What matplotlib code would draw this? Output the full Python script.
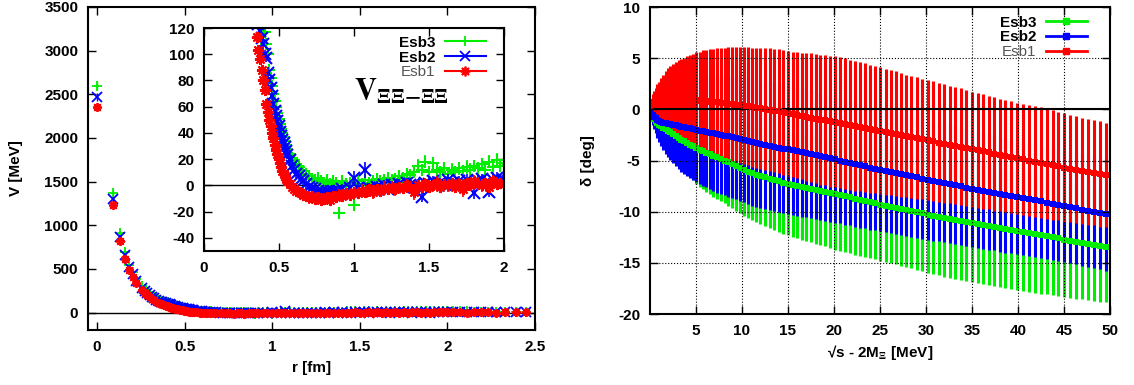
import matplotlib
matplotlib.use('Agg')
import matplotlib.pyplot as plt
from matplotlib.lines import Line2D

plt.rcParams['font.family'] = ['Liberation Sans', 'DejaVu Sans']
plt.rcParams['font.weight'] = 'bold'
plt.rcParams['axes.unicode_minus'] = False
plt.rcParams['mathtext.fontset'] = 'stix'

GREEN = '#00ee00'
BLUE = '#0000ff'
RED = '#ff0000'

# ---- left panel: potential V(r), lattice points ----
r_fm = [0.000, 0.091, 0.128, 0.157, 0.181, 0.203, 0.222, 0.256, 0.272, 0.287, 0.301, 0.314, 0.327, 0.339, 0.351, 0.362,
        0.373, 0.384, 0.394, 0.404, 0.414, 0.424, 0.434, 0.444, 0.453, 0.462, 0.471, 0.480, 0.489, 0.498, 0.506, 0.515,
        0.523, 0.531, 0.540, 0.548, 0.556, 0.570, 0.585, 0.600,
        0.615, 0.630, 0.645, 0.660, 0.680, 0.700, 0.720, 0.740, 0.760, 0.780, 0.800, 0.820, 0.840, 0.860, 0.880, 0.900,
        0.920, 0.945, 0.970, 1.000,
        1.025, 1.050, 1.075, 1.100, 1.125, 1.150, 1.175, 1.200, 1.225, 1.250, 1.275, 1.300, 1.325, 1.350, 1.375, 1.400,
        1.425, 1.450, 1.475, 1.500, 1.525, 1.550, 1.575, 1.600, 1.625, 1.650, 1.675, 1.700, 1.725, 1.750, 1.775, 1.800,
        1.825, 1.850, 1.875, 1.900, 1.925, 1.950, 1.975, 2.000,
        2.03, 2.07, 2.11, 2.15, 2.19, 2.23, 2.28, 2.33, 2.39, 2.45]

v_esb3 = [2600, 1370, 915, 690, 545, 462, 388, 300, 268, 240, 215, 194, 176, 160, 146, 135,
          128, 124, 121, 117, 108, 100, 88, 82, 76, 70, 64, 60, 55, 51, 47, 43, 40, 37, 34, 31, 28, 24, 21, 19,
          16, 14, 12, 11, 9, 7, 5, 4, 6, 3, 2, 4, 1, 3, 2, -21, 3, 1, 2, -15,
          3, 1, 4, 2, 3, 5, 3, 4, 6, 4, 5, 7, 6, 9, 8, 10, 15, 12, 18, 10,
          17, 12, 10, 13, 9, 12, 10, 13, 11, 14, 12, 15, 13, 16, 12, 18, 14, 19, 15, 17,
          16, 14, 12, 10, 8, 6, 5, 4, 3, 2]
v_esb2 = [2470, 1300, 868, 660, 522, 440, 366, 282, 252, 225, 200, 180, 163, 147, 133, 123,
          118, 112, 108, 100, 97, 86, 80, 74, 68, 62, 57, 53, 49, 45, 41, 38, 35, 32, 29, 26, 23, 19, 15, 12,
          9, 7, 5, 3, 1, -1, -2, -3, -4, -5, -6, -5, -6, -4, -5, -4, -3, -5, -2, 6,
          -2, -4, 12, -2, -3, -1, -2, 0, -3, 0, -1, 1, -1, 2, 0, 1, -2, -9, 2, 1,
          3, 0, 2, 1, 4, 2, 0, 3, 1, 4, 2, -6, 3, 5, 2, -5, 4, 6, 3, 4,
          3, 2, 4, 1, 3, 2, 1, 3, 2, 1]
v_esb1 = [2350, 1235, 815, 618, 492, 408, 342, 258, 228, 200, 176, 156, 140, 125, 113, 103,
          96, 88, 80, 73, 62, 56, 50, 45, 40, 36, 31, 27, 24, 20, 17, 14, 11, 9, 7, 5, 3, 1, -1, -3,
          -4, -5, -6, -7, -8, -9, -8, -10, -9, -11, -10, -9, -11, -8, -9, -7, -8, -6, -7, -5,
          -6, -4, -5, -3, -5, -3, -4, -2, -3, -1, -3, -1, -2, 0, -2, -5, 0, -1, 1, -1,
          0, 2, -1, 1, 0, 2, -1, 1, -3, 2, 0, 3, 1, 0, 2, -1, 3, 1, 2, 1,
          1, 2, 0, 1, 2, 1, 0, 1, 2, 1]

e_esb3 = [50, 30, 18, 13, 11, 9, 8, 7, 6, 5, 5, 4, 4, 4, 3, 3,
          3, 3, 3, 4, 3, 3, 4, 3, 3, 3, 4, 3, 3, 3, 3, 4, 3, 3, 3, 3, 4, 3, 3, 3,
          3, 4, 3, 3, 4, 3, 3, 4, 3, 4, 3, 3, 4, 3, 3, 2, 3, 4, 3, 3,
          3, 4, 3, 4, 3, 4, 3, 4, 3, 4, 4, 3, 4, 4, 3, 4, 5, 4, 5, 4,
          5, 4, 4, 5, 4, 5, 4, 5, 4, 5, 5, 4, 5, 5, 4, 5, 5, 6, 5, 5,
          5, 6, 5, 6, 7, 6, 7, 8, 7, 8]
e_esb2 = [45, 28, 16, 12, 10, 8, 7, 6, 5, 5, 4, 4, 4, 3, 3, 3,
          3, 3, 4, 3, 3, 4, 3, 3, 3, 4, 3, 3, 3, 3, 4, 3, 3, 3, 4, 3, 3, 3, 3, 3,
          3, 3, 4, 3, 4, 3, 4, 5, 4, 3, 5, 4, 3, 4, 4, 3, 4, 3, 4, 5,
          4, 3, 6, 4, 3, 4, 3, 4, 4, 3, 4, 4, 3, 4, 4, 3, 4, 4, 3, 4,
          4, 3, 4, 4, 5, 4, 3, 4, 4, 5, 4, 4, 5, 4, 5, 4, 5, 4, 5, 5,
          5, 6, 5, 6, 7, 6, 7, 8, 7, 8]
e_esb1 = [40, 25, 15, 12, 10, 8, 7, 6, 5, 5, 4, 4, 4, 3, 3, 3,
          3, 4, 3, 3, 4, 3, 2, 3, 4, 3, 3, 2, 3, 4, 3, 3, 2, 3, 3, 4, 3, 3, 2, 3,
          3, 4, 3, 4, 3, 5, 4, 3, 4, 5, 4, 3, 5, 4, 3, 4, 5, 3, 4, 4,
          4, 5, 3, 4, 5, 4, 3, 5, 4, 4, 5, 3, 4, 5, 4, 6, 3, 4, 5, 4,
          3, 5, 4, 4, 5, 3, 4, 5, 6, 4, 3, 5, 4, 5, 4, 3, 5, 4, 4, 5,
          5, 6, 5, 6, 7, 6, 7, 8, 7, 8]

# ---- right panel: phase shift vs energy ----
e_mev = [0.05, 0.15, 0.3, 0.45, 0.6, 0.8, 1.0, 1.2, 1.45, 1.7,
         1.95, 2.2, 2.5, 2.8, 3.1, 3.4, 3.7, 4.0, 4.35, 4.7,
         5.05, 5.4, 5.75, 6.1, 6.5, 6.9, 7.3, 7.7, 8.1, 8.5,
         8.9, 9.3, 9.75, 10.2, 10.65, 11.1, 11.55, 12.0, 12.5, 13.0,
         13.5, 14.0, 14.5, 15.0, 15.5, 16.0, 16.5, 17.0, 17.5, 18.0,
         18.5, 19.0, 19.55, 20.1, 20.65, 21.2, 21.75, 22.3, 22.85, 23.4,
         23.95, 24.5, 25.05, 25.6, 26.15, 26.7, 27.25, 27.8, 28.4, 29.0,
         29.6, 30.2, 30.8, 31.4, 32.0, 32.6, 33.2, 33.8, 34.4, 35.0,
         35.6, 36.2, 36.8, 37.4, 38.0, 38.6, 39.2, 39.85, 40.5, 41.15,
         41.8, 42.45, 43.1, 43.75, 44.4, 45.05, 45.7, 46.35, 47.0, 47.65,
         48.3, 48.95, 49.6]

d_esb1 = [0.35, 0.45, 0.6, 0.7, 0.75, 0.85, 0.9, 0.95, 1.0, 1.0,
          1.0, 1.0, 1.0, 1.0, 1.0, 1.0, 0.95, 0.95, 0.95, 0.9,
          0.9, 0.85, 0.85, 0.8, 0.75, 0.7, 0.7, 0.65, 0.6, 0.55,
          0.5, 0.45, 0.4, 0.35, 0.3, 0.2, 0.15, 0.1, 0.0, -0.05,
          -0.15, -0.2, -0.3, -0.4, -0.5, -0.55, -0.65, -0.75, -0.8, -0.9,
          -1.0, -1.05, -1.15, -1.2, -1.3, -1.4, -1.5, -1.6, -1.7, -1.8,
          -1.9, -2.0, -2.1, -2.2, -2.3, -2.4, -2.5, -2.6, -2.7, -2.8,
          -2.9, -3.0, -3.1, -3.25, -3.35, -3.45, -3.55, -3.65, -3.8, -3.9,
          -4.0, -4.1, -4.2, -4.35, -4.45, -4.55, -4.65, -4.8, -4.9, -5.0,
          -5.1, -5.2, -5.35, -5.45, -5.55, -5.7, -5.8, -5.9, -6.0, -6.1,
          -6.2, -6.3, -6.4]
de_esb1 = [0.3, 0.6, 0.9, 1.1, 1.3, 1.6, 1.8, 2.1, 2.4, 2.7,
           3.0, 3.2, 3.4, 3.6, 3.8, 3.95, 4.1, 4.25, 4.4, 4.55,
           4.7, 4.8, 4.9, 5.0, 5.1, 5.2, 5.3, 5.35, 5.4, 5.5,
           5.55, 5.6, 5.65, 5.7, 5.75, 5.8, 5.85, 5.9, 5.95, 6.0,
           6.0, 6.05, 6.1, 6.1, 6.15, 6.2, 6.2, 6.25, 6.3, 6.3,
           6.35, 6.35, 6.4, 6.4, 6.4, 6.4, 6.35, 6.35, 6.3, 6.3,
           6.25, 6.2, 6.2, 6.15, 6.1, 6.1, 6.05, 6.0, 6.0, 5.95,
           5.9, 5.9, 5.85, 5.8, 5.8, 5.75, 5.7, 5.7, 5.65, 5.6,
           5.6, 5.6, 5.55, 5.55, 5.5, 5.5, 5.5, 5.45, 5.45, 5.4,
           5.4, 5.4, 5.35, 5.35, 5.3, 5.3, 5.25, 5.25, 5.2, 5.2,
           5.15, 5.15, 5.1]

d_esb2 = [-0.3, -0.45, -0.6, -0.75, -0.85, -1.0, -1.1, -1.2, -1.3, -1.35,
          -1.4, -1.45, -1.5, -1.55, -1.6, -1.7, -1.75, -1.8, -1.85, -1.95,
          -2.0, -2.1, -2.15, -2.2, -2.3, -2.35, -2.45, -2.5, -2.6, -2.65,
          -2.75, -2.8, -2.9, -3.0, -3.1, -3.2, -3.3, -3.35, -3.45, -3.55,
          -3.65, -3.75, -3.85, -3.9, -4.0, -4.1, -4.2, -4.3, -4.4, -4.5,
          -4.6, -4.7, -4.8, -4.9, -5.0, -5.15, -5.25, -5.35, -5.45, -5.55,
          -5.7, -5.8, -5.9, -6.0, -6.1, -6.2, -6.35, -6.45, -6.55, -6.65,
          -6.8, -6.9, -7.0, -7.1, -7.2, -7.3, -7.4, -7.5, -7.65, -7.75,
          -7.85, -7.95, -8.05, -8.15, -8.3, -8.4, -8.5, -8.6, -8.7, -8.8,
          -8.9, -9.0, -9.15, -9.25, -9.35, -9.45, -9.55, -9.65, -9.8, -9.9,
          -10.0, -10.1, -10.25]
de_esb2 = [0.3, 0.6, 0.9, 1.2, 1.5, 1.8, 2.1, 2.4, 2.7, 3.0,
           3.25, 3.5, 3.75, 4.0, 4.2, 4.4, 4.55, 4.7, 4.85, 5.0,
           5.1, 5.2, 5.3, 5.4, 5.5, 5.6, 5.7, 5.75, 5.8, 5.9,
           5.95, 6.0, 6.05, 6.1, 6.15, 6.2, 6.2, 6.25, 6.25, 6.3,
           6.3, 6.3, 6.3, 6.3, 6.3, 6.3, 6.3, 6.25, 6.25, 6.25,
           6.2, 6.2, 6.2, 6.2, 6.15, 6.15, 6.1, 6.1, 6.1, 6.05,
           6.05, 6.0, 6.0, 6.0, 6.0, 5.95, 5.95, 5.95, 5.9, 5.9,
           5.9, 5.85, 5.85, 5.8, 5.8, 5.8, 5.75, 5.75, 5.7, 5.7,
           5.7, 5.65, 5.65, 5.6, 5.6, 5.6, 5.55, 5.55, 5.5, 5.5,
           5.5, 5.5, 5.5, 5.5, 5.5, 5.5, 5.5, 5.5, 5.5, 5.5,
           5.5, 5.5, 5.5]

d_esb3 = [-0.35, -0.55, -0.75, -0.95, -1.1, -1.3, -1.5, -1.65, -1.8, -1.95,
          -2.1, -2.25, -2.4, -2.6, -2.8, -2.95, -3.1, -3.3, -3.45, -3.6,
          -3.8, -3.95, -4.1, -4.25, -4.4, -4.55, -4.7, -4.85, -5.0, -5.15,
          -5.35, -5.55, -5.75, -5.95, -6.1, -6.25, -6.4, -6.5, -6.65, -6.8,
          -6.95, -7.05, -7.2, -7.3, -7.4, -7.5, -7.6, -7.7, -7.8, -7.9,
          -8.0, -8.1, -8.2, -8.3, -8.4, -8.5, -8.6, -8.75, -8.85, -8.95,
          -9.05, -9.15, -9.3, -9.4, -9.5, -9.6, -9.7, -9.8, -9.95, -10.05,
          -10.15, -10.3, -10.4, -10.5, -10.6, -10.7, -10.8, -10.9, -11.0, -11.1,
          -11.2, -11.3, -11.4, -11.5, -11.6, -11.7, -11.8, -11.9, -12.0, -12.1,
          -12.2, -12.3, -12.4, -12.5, -12.6, -12.75, -12.85, -12.95, -13.05, -13.15,
          -13.25, -13.35, -13.45]
de_esb3 = [0.3, 0.5, 0.7, 0.85, 1.0, 1.2, 1.4, 1.55, 1.7, 1.85,
           2.0, 2.15, 2.3, 2.45, 2.6, 2.75, 2.9, 3.05, 3.2, 3.35,
           3.5, 3.6, 3.7, 3.8, 3.9, 4.0, 4.1, 4.15, 4.2, 4.25,
           4.3, 4.35, 4.4, 4.45, 4.5, 4.6, 4.65, 4.7, 4.75, 4.8,
           4.85, 4.9, 4.95, 5.0, 5.05, 5.1, 5.15, 5.2, 5.2, 5.25,
           5.3, 5.3, 5.35, 5.4, 5.4, 5.4, 5.45, 5.45, 5.45, 5.5,
           5.5, 5.5, 5.5, 5.55, 5.55, 5.55, 5.6, 5.6, 5.6, 5.65,
           5.65, 5.7, 5.7, 5.7, 5.75, 5.75, 5.75, 5.8, 5.8, 5.8,
           5.8, 5.8, 5.8, 5.8, 5.8, 5.8, 5.8, 5.8, 5.75, 5.75,
           5.7, 5.7, 5.65, 5.65, 5.6, 5.6, 5.55, 5.55, 5.5, 5.5,
           5.45, 5.45, 5.4]

labels = ['Esb3', 'Esb2', 'Esb1']
W, H = 1134, 385

fig = plt.figure(figsize=(W / 100, H / 100), dpi=100)


def px_axes(left, top, right, bottom):
    return fig.add_axes([left / W, 1 - bottom / H, (right - left) / W, (bottom - top) / H])


def gp_ticks(ax, pad=6):
    ax.tick_params(direction='in', top=True, right=True, length=6, width=1,
                   labelsize=11, pad=pad)
    for lab in ax.get_xticklabels() + ax.get_yticklabels():
        lab.set_fontweight('bold')
    for s in ax.spines.values():
        s.set_linewidth(1.5)


left_series = [(v_esb3, e_esb3, GREEN, '+'),
               (v_esb2, e_esb2, BLUE, 'x'),
               (v_esb1, e_esb1, RED, (8, 2, 0))]

# main left axes
ax1 = px_axes(88, 7, 535, 330)
for v, e, c, m in left_series:
    ax1.errorbar(r_fm, v, yerr=e, fmt='none', ecolor=c, elinewidth=1)
    ax1.plot(r_fm, v, ls='none', marker=m, color=c, ms=6.5, mew=1.3)
ax1.axhline(0, color='k', lw=1, zorder=0)
ax1.set_xlim(-0.052, 2.5)
ax1.set_ylim(-200, 3500)
ax1.set_xticks([0, 0.5, 1, 1.5, 2, 2.5])
ax1.set_xticklabels(['0', '0.5', '1', '1.5', '2', '2.5'])
ax1.set_yticks(range(0, 3501, 500))
gp_ticks(ax1, pad=7)
ax1.set_xlabel('r [fm]', fontsize=11, fontweight='bold')
ax1.set_ylabel('V [MeV]', fontsize=11, fontweight='bold')
ax1.xaxis.set_label_coords(0.5, -0.095)
ax1.yaxis.set_label_coords(-0.145, 0.5)

# inset
ax_in = px_axes(204, 28, 504, 251)
ax_in.set_facecolor('white')
for v, e, c, m in left_series:
    ax_in.errorbar(r_fm, v, yerr=e, fmt='none', ecolor=c, elinewidth=1.2)
    ax_in.plot(r_fm, v, ls='none', marker=m, color=c, ms=8, mew=1.5)
ax_in.axhline(0, color='k', lw=1, zorder=0)
ax_in.set_xlim(0, 2)
ax_in.set_ylim(-50, 120)
ax_in.set_xticks([0, 0.5, 1, 1.5, 2])
ax_in.set_xticklabels(['0', '0.5', '1', '1.5', '2'])
ax_in.set_yticks(range(-40, 121, 20))
gp_ticks(ax_in, pad=7)
ax_in.text(1.0, 71, r'$\mathrm{V}_{\Xi\Xi{-}\Xi\Xi}$', fontsize=22, ha='left', va='center')

h_left = [Line2D([], [], color=GREEN, marker='+', ms=7, mew=1.3, lw=1.5),
          Line2D([], [], color=BLUE, marker='x', ms=7, mew=1.3, lw=1.5),
          Line2D([], [], color=RED, marker=(8, 2, 0), ms=7, mew=1.3, lw=1.5)]
leg = ax_in.legend(h_left, labels, loc='upper right', bbox_to_anchor=(0.94, 0.965),
                   frameon=False, markerfirst=False, handlelength=2.7, handletextpad=0.6,
                   labelspacing=0.05, borderpad=0, borderaxespad=0, fontsize=11)
leg.get_texts()[2].set_color('#555555')
leg.get_texts()[2].set_fontweight('normal')

# right panel
ax2 = px_axes(650, 7, 1110, 314)
for d, de, c in [(d_esb3, de_esb3, GREEN), (d_esb2, de_esb2, BLUE), (d_esb1, de_esb1, RED)]:
    ax2.errorbar(e_mev, d, yerr=de, fmt='s', color=c, ms=4.5, mew=0,
                 elinewidth=2.2, capsize=0)
ax2.set_axisbelow(False)
ax2.grid(True, ls=':', color='k', lw=0.8)
ax2.axhline(0, color='k', lw=1.5)
ax2.set_xlim(0, 50)
ax2.set_ylim(-20, 10)
ax2.set_xticks(range(5, 51, 5))
ax2.set_yticks(range(-20, 11, 5))
gp_ticks(ax2, pad=7)
ax2.set_xlabel('√s - 2M$_{\\Xi}$ [MeV]', fontsize=11, fontweight='bold')
ax2.set_ylabel('δ [deg]', fontsize=11, fontweight='bold')
ax2.xaxis.set_label_coords(0.5, -0.095)
ax2.yaxis.set_label_coords(-0.12, 0.5)

h_right = [Line2D([], [], color=GREEN, marker='s', ms=4, lw=2),
           Line2D([], [], color=BLUE, marker='s', ms=4, lw=2),
           Line2D([], [], color=RED, marker='s', ms=4, lw=2)]
leg2 = ax2.legend(h_right, labels, loc='upper right', bbox_to_anchor=(0.95, 0.972),
                  frameon=False, markerfirst=False, handlelength=2.7, handletextpad=0.6,
                  labelspacing=0.05, borderpad=0, borderaxespad=0, fontsize=11)
leg2.get_texts()[2].set_color('#555555')
leg2.get_texts()[2].set_fontweight('normal')

fig.savefig('out.png', dpi=100)
